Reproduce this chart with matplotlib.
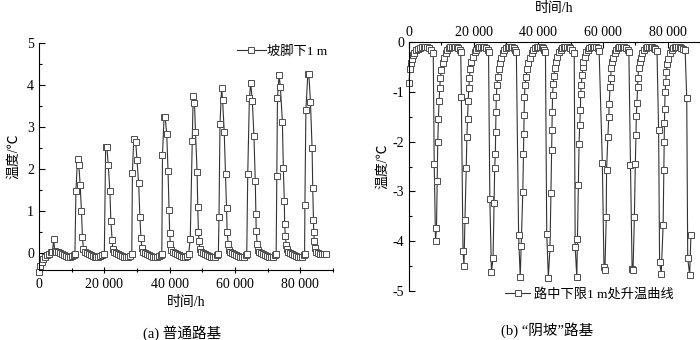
import matplotlib
matplotlib.use("Agg")
import matplotlib.pyplot as plt
from matplotlib.ticker import MultipleLocator

plt.rcParams['font.family'] = ['Liberation Serif', 'Noto Sans CJK SC']
plt.rcParams['axes.unicode_minus'] = False

# (a) 普通路基 — 坡脚下1 m
a_t = [0, 400, 800, 1300, 1800, 2400, 3000, 3600, 4100, 4500, 4800, 5300, 5900, 6500, 7100, 7700, 8300, 8900, 9500, 10100, 10600, 11000,
       11300, 11800, 12200, 12600, 13000, 13300, 13600,
       14000, 14600, 15200, 15800, 16400, 17000, 17600, 18200, 18800, 19400, 20000,
       20400, 20800, 21200, 21700, 22000, 22400, 22600,
       23000, 23600, 24200, 24800, 25400, 26000, 26600, 27200, 27800, 28400,
       28600, 29000, 29600, 30000, 30500, 30900, 31200, 31500,
       31900, 32500, 33100, 33700, 34300, 34900, 35500, 36100, 36700, 37300, 37600,
       37800, 38300, 38600, 39100, 39500, 39800, 40000, 40200, 40500,
       41000, 41600, 42200, 42800, 43400, 44000, 44600, 45200, 45800, 46300,
       46900, 47200, 47600, 47900, 48400, 48600, 48800, 49000, 49200,
       49600, 50200, 50800, 51400, 52000, 52600, 53200, 53800, 54400, 54900,
       55100, 55400, 55900, 56200, 56700, 57100, 57400, 57600, 57900, 58100,
       58500, 59100, 59700, 60300, 60900, 61500, 62100, 62700, 63300, 63600,
       63900, 64400, 64800, 65300, 65800, 66200, 66400, 66500, 66800, 67000,
       67400, 68000, 68600, 69200, 69800, 70400, 71000, 71600, 72200, 72600,
       72800, 73000, 73500, 73900, 74500, 74800, 75100, 75200, 75400, 75700, 75900,
       76300, 76900, 77500, 78100, 78700, 79300, 79900, 80500, 81000, 81300,
       81400, 81700, 82300, 82600, 83100, 83600, 83800, 84000, 84100, 84300, 84500,
       84900, 85500, 86100, 86700, 87300, 87900]
a_v = [-0.44, -0.3, -0.2, -0.14, -0.09, -0.05, -0.01, 0.02, 0.04, 0.33, 0.06, 0.04, 0.02, 0.0, -0.03, -0.05, -0.07, -0.08, -0.08, -0.07, -0.05, -0.02,
       1.48, 2.25, 2.1, 1.62, 1.0, 0.38, 0.1,
       0.03, 0.01, -0.02, -0.04, -0.06, -0.08, -0.09, -0.08, -0.07, -0.05, -0.01,
       2.52, 2.52, 2.09, 1.48, 0.76, 0.31, 0.09,
       0.03, 0.01, -0.02, -0.04, -0.06, -0.08, -0.09, -0.08, -0.06, -0.02,
       1.91, 2.72, 2.65, 2.22, 1.66, 0.85, 0.37, 0.13,
       0.04, 0.01, -0.02, -0.05, -0.07, -0.08, -0.09, -0.08, -0.06, -0.04, -0.01,
       2.34, 3.25, 3.25, 2.84, 1.95, 1.03, 0.49, 0.23, 0.07,
       0.02, 0.0, -0.03, -0.05, -0.07, -0.08, -0.08, -0.06, -0.02, 0.33,
       2.66, 3.75, 3.58, 2.89, 1.93, 1.09, 0.5, 0.28, 0.09,
       0.03, 0.01, -0.02, -0.05, -0.07, -0.08, -0.09, -0.08, -0.05, -0.02,
       0.85, 3.07, 3.92, 3.65, 2.89, 1.89, 1.08, 0.5, 0.23, 0.08,
       0.03, 0.0, -0.03, -0.05, -0.07, -0.08, -0.09, -0.08, -0.05, -0.01,
       1.88, 3.68, 4.05, 3.62, 2.79, 1.72, 0.93, 0.52, 0.22, 0.08,
       0.03, 0.0, -0.03, -0.05, -0.07, -0.08, -0.09, -0.08, -0.05, -0.01,
       1.84, 3.68, 4.23, 3.95, 3.13, 2.02, 1.23, 0.7, 0.4, 0.2, 0.1,
       0.03, 0.0, -0.03, -0.05, -0.07, -0.08, -0.09, -0.08, -0.05, -0.01,
       1.15, 3.4, 4.27, 4.27, 3.6, 2.5, 1.55, 0.8, 0.5, 0.29, 0.12,
       0.04, 0.01, -0.02, -0.03, -0.03, -0.03]

# (b) “阴坡”路基 — 路中下限1 m处升温曲线
b_t = [0, 300, 600, 900, 1300, 1700, 2200, 2700, 3300, 3900, 4500, 5100, 5700, 6300, 6800, 7500,
       7800, 8200,
       8500, 8700, 8900, 9100, 9300, 9500, 9700, 10000, 10400, 10800,
       11300, 11800, 12300, 12800, 13300, 13800, 14300, 14800, 15300, 15700, 16000,
       16200, 16700, 17000,
       17300, 17700, 17900, 18100, 18300, 18500, 18700, 18900, 19300, 19800,
       20300, 20800, 21300, 21800, 22300, 22800, 23300, 23800, 24300, 24600,
       25000, 25500,
       26000, 26300, 26500, 26700, 26800, 26900, 27000, 27200, 27400, 27700, 28000, 28500,
       29000, 29500, 30000, 30500, 31000, 31500, 32000, 32500, 32900, 33200,
       33900, 34400,
       34700, 35200, 35400, 35500, 35600, 35700, 35900, 36200, 36500, 36900, 37500,
       38000, 38500, 39000, 39500, 40000, 40500, 41000, 41500, 41900, 42200,
       42600, 43100,
       43600, 43900, 44100, 44200, 44300, 44400, 44600, 44800, 45100, 45400, 45900,
       46400, 46900, 47400, 47900, 48400, 48900, 49400, 49900, 50400, 51100,
       51400, 51900,
       52100, 52400, 52600, 52800, 53000, 53100, 53300, 53500, 53800, 53900, 54300,
       54800, 55300, 55800, 56300, 56800, 57300, 57800, 58300, 58800,
       59800, 60300, 60600,
       61000, 61100, 61500, 61800, 61900, 62200, 62400, 62500, 62800, 63100,
       63600, 64100, 64600, 65100, 65600, 66100, 66600, 67100, 67600, 68000,
       68500, 69000, 69300,
       69700, 70000, 70200, 70300, 70500, 70700, 70800, 71000, 71300, 71700,
       72200, 72700, 73200, 73700, 74200, 74700, 75200, 75700, 76200, 76700,
       77200, 77500, 78000,
       78600, 78800, 78900, 79000, 79100, 79200, 79400, 79600, 79900, 80200,
       80700, 81200, 81700, 82200, 82700, 83200, 83700, 84200, 84800, 85400,
       85900, 86200, 86800,
       87200]
b_v = [-0.82, -0.54, -0.42, -0.34, -0.27, -0.22, -0.17, -0.14, -0.12, -0.11, -0.1, -0.1, -0.11, -0.13, -0.16, -0.23,
       -2.44, -4.0,
       -3.73, -2.8, -2.0, -1.54, -1.19, -0.93, -0.73, -0.56, -0.43, -0.33,
       -0.22, -0.16, -0.13, -0.11, -0.1, -0.1, -0.1, -0.11, -0.13, -0.16, -0.21,
       -1.11, -4.19, -4.49,
       -3.57, -2.54, -1.9, -1.54, -1.19, -0.93, -0.72, -0.55, -0.41, -0.3,
       -0.21, -0.16, -0.13, -0.11, -0.1, -0.1, -0.11, -0.13, -0.16, -0.2,
       -3.15, -4.61,
       -4.34, -3.23, -2.54, -2.24, -1.8, -1.41, -1.1, -0.87, -0.7, -0.55, -0.43, -0.32,
       -0.22, -0.16, -0.13, -0.11, -0.1, -0.1, -0.11, -0.13, -0.16, -0.21,
       -3.88, -4.72,
       -4.1, -3.01, -2.24, -1.84, -1.47, -1.1, -0.87, -0.7, -0.55, -0.43, -0.32,
       -0.22, -0.16, -0.13, -0.11, -0.1, -0.1, -0.11, -0.13, -0.16, -0.21,
       -3.85, -4.73,
       -4.14, -3.04, -2.17, -1.77, -1.41, -1.07, -0.85, -0.68, -0.53, -0.41, -0.31,
       -0.21, -0.16, -0.13, -0.11, -0.1, -0.1, -0.11, -0.13, -0.16, -0.23,
       -4.12, -4.72,
       -3.95, -2.88, -2.04, -1.67, -1.37, -1.05, -0.87, -0.66, -0.51, -0.4, -0.3,
       -0.21, -0.16, -0.13, -0.11, -0.1, -0.1, -0.11, -0.13, -0.18,
       -2.43, -4.52, -4.57,
       -3.52, -2.58, -1.9, -1.5, -1.25, -0.9, -0.73, -0.53, -0.41, -0.32,
       -0.22, -0.16, -0.13, -0.11, -0.1, -0.1, -0.11, -0.13, -0.16, -0.2,
       -2.47, -4.55, -4.57,
       -3.52, -2.44, -1.87, -1.48, -1.23, -0.91, -0.72, -0.53, -0.41, -0.32,
       -0.22, -0.16, -0.13, -0.11, -0.1, -0.1, -0.11, -0.13, -0.15, -0.18,
       -1.77, -4.42, -4.65,
       -3.68, -2.58, -2.0, -1.62, -1.35, -1.01, -0.8, -0.6, -0.45, -0.34,
       -0.23, -0.17, -0.13, -0.11, -0.1, -0.1, -0.11, -0.12, -0.14, -0.16,
       -1.13, -4.34, -4.68,
       -3.87]

x_ticks = [0, 20000, 40000, 60000, 80000]
x_labels = ['0', '20 000', '40 000', '60 000', '80 000']
a_yticks = [0, 1, 2, 3, 4, 5]
b_yticks = [0, -1, -2, -3, -4, -5]
b_ylabels = ['0', '-1', '-2', '-3', '-4', '-5']

line_kw = dict(color='#333333', lw=0.8, marker='s', ms=4.2, mfc='white',
               mec='#4d4d4d', mew=0.7)

fig = plt.figure(figsize=(7, 3.4), dpi=100)

# ---- (a)
ax1 = fig.add_axes([39 / 700, 1 - 270 / 340, 294 / 700, 227 / 340])
ax1.plot(a_t, a_v, label='坡脚下1 m', clip_on=False, **line_kw)
ax1.set_xlim(0, 90000)
ax1.set_ylim(-0.4, 5)
ax1.set_xticks(x_ticks)
ax1.set_xticklabels(x_labels)
ax1.set_yticks(a_yticks)
ax1.xaxis.set_minor_locator(MultipleLocator(10000))
ax1.yaxis.set_minor_locator(MultipleLocator(0.5))
for s in ['top', 'right']:
    ax1.spines[s].set_visible(False)
ax1.tick_params(axis='both', which='both', direction='in', labelsize=10, width=0.8)
ax1.tick_params(axis='x', which='both', direction='inout')
ax1.tick_params(which='major', length=4)
ax1.tick_params(which='minor', length=2.5)
ax1.set_xlabel('时间/h', fontsize=10, labelpad=4)
ax1.set_ylabel('温度/℃', fontsize=10, labelpad=5)
ax1.legend(loc='upper right', bbox_to_anchor=(0.98, 0.99), frameon=False,
           fontsize=9.5, handlelength=2.2, handletextpad=0.1, borderaxespad=0,
           borderpad=0, numpoints=1)
fig.text(182 / 700, 1 - 333 / 340, '(a) 普通路基', ha='center', va='center', fontsize=10.5)

# ---- (b)
ax2 = fig.add_axes([409 / 700, 1 - 291 / 340, 291 / 700, 249 / 340])
ax2.plot(b_t, b_v, label='路中下限1 m处升温曲线', clip_on=False, **line_kw)
ax2.set_xlim(0, 90000)
ax2.set_ylim(-5, 0)
ax2.xaxis.tick_top()
ax2.xaxis.set_label_position('top')
ax2.set_xticks(x_ticks)
ax2.set_xticklabels(x_labels)
ax2.set_yticks(b_yticks)
ax2.set_yticklabels(b_ylabels)
ax2.xaxis.set_minor_locator(MultipleLocator(10000))
ax2.yaxis.set_minor_locator(MultipleLocator(0.5))
for s in ['bottom', 'right']:
    ax2.spines[s].set_visible(False)
ax2.tick_params(axis='both', which='both', direction='in', labelsize=10, width=0.8)
ax2.tick_params(axis='x', which='both', pad=2)
ax2.tick_params(which='major', length=4)
ax2.tick_params(which='minor', length=2.5)
ax2.set_xlabel('时间/h', fontsize=10, labelpad=10)
ax2.set_ylabel('温度/℃', fontsize=10, labelpad=2)
ax2.legend(loc='center left', bbox_to_anchor=((505 - 409) / 291, -0.012), frameon=False,
           fontsize=9.5, handlelength=1.9, handletextpad=0.3, borderaxespad=0,
           borderpad=0, numpoints=1)
fig.text(547 / 700, 1 - 330 / 340, '(b) “阴坡”路基', ha='center', va='center', fontsize=10.5)

fig.savefig('out.png', dpi=100)
